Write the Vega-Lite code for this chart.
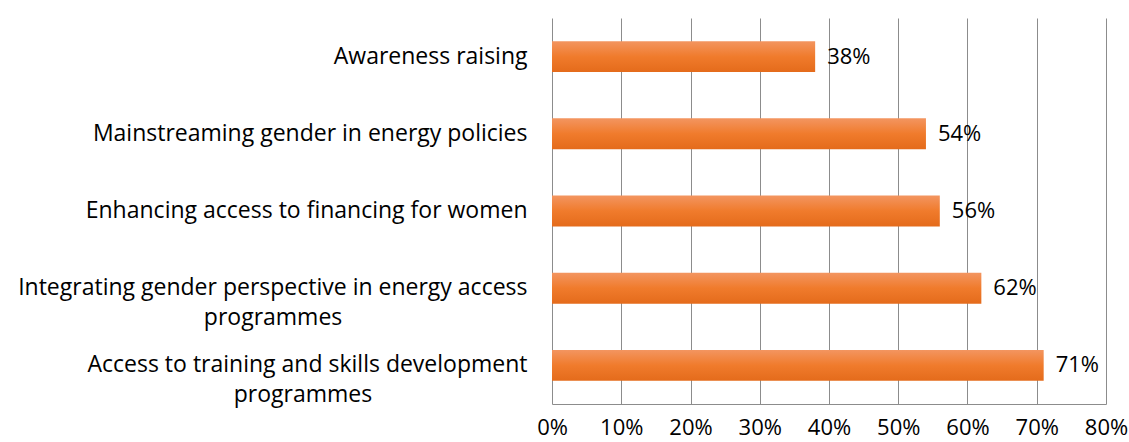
{
  "$schema": "https://vega.github.io/schema/vega-lite/v6.json",
  "width": 554,
  "height": 386,
  "autosize": "none",
  "padding": {"left": 552, "top": 18, "right": 23, "bottom": 38},
  "background": "white",
  "config": {"view": {"stroke": null}, "font": "Open Sans"},
  "data": {"values": [
    {"cat": "Awareness raising", "value": 0.38},
    {"cat": "Mainstreaming gender in energy policies", "value": 0.54},
    {"cat": "Enhancing access to financing for women", "value": 0.56},
    {"cat": "Integrating gender perspective in energy access|programmes", "value": 0.62},
    {"cat": "Access to training and skills development|programmes", "value": 0.71}
  ]},
  "encoding": {
    "y": {"field": "cat", "type": "nominal", "sort": null,
      "scale": {"paddingInner": 0.6, "paddingOuter": 0.3},
      "axis": {"title": null, "ticks": false, "domain": false, "labelFontSize": 23, "labelColor": "black",
        "labelPadding": 25, "labelLimit": 800, "labelLineHeight": 30, "labelAlign": "right",
        "labelExpr": "indexof(datum.label, '|') < 0 ? datum.label : [split(datum.label, '|')[0], pad(split(datum.label, '|')[1], length(split(datum.label, '|')[1]) + round((length(split(datum.label, '|')[0]) - length(split(datum.label, '|')[1])) * 0.83), '\u00a0') + '\u200b']"}},
    "x": {"field": "value", "type": "quantitative",
      "scale": {"domain": [0, 0.8]},
      "axis": {"title": null, "format": ".0%", "values": [0,0.1,0.2,0.3,0.4,0.5,0.6,0.7,0.8],
        "grid": true, "gridColor": "#8c8c8c", "gridWidth": 1, "ticks": false,
        "domain": true, "domainColor": "#8c8c8c", "labelFontSize": 22, "labelColor": "black",
        "labelPadding": 13, "labelFlush": false}}
  },
  "layer": [
    {"mark": {"type": "bar", "color": {"gradient": "linear", "x1": 0, "y1": 0, "x2": 0, "y2": 1,
      "stops": [{"offset": 0, "color": "#F39560"}, {"offset": 0.5, "color": "#F07B2C"}, {"offset": 1, "color": "#E46B1B"}]}}},
    {"mark": {"type": "text", "align": "left", "dx": 12, "fontSize": 22, "color": "black"},
      "encoding": {"text": {"field": "value", "format": ".0%"}}}
  ]
}
